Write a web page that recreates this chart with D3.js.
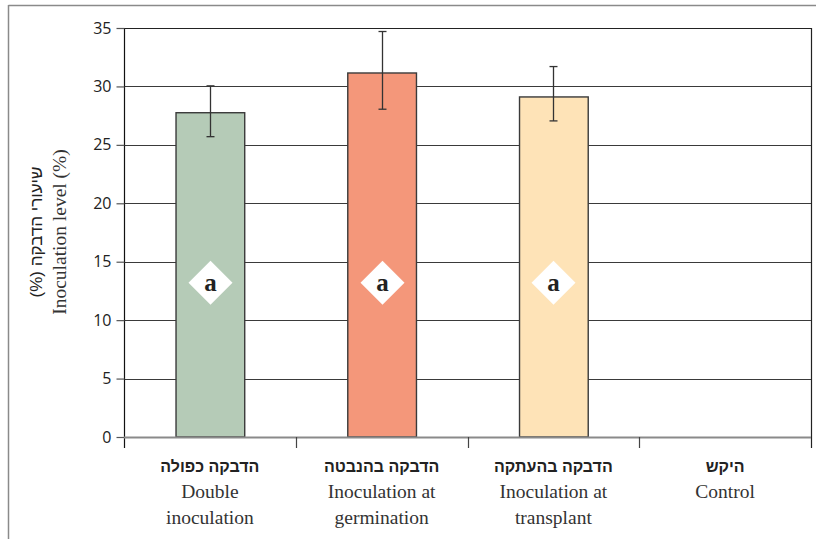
<!DOCTYPE html>
<html>
<head>
<meta charset="utf-8">
<script src="https://cdn.jsdelivr.net/npm/d3@7/dist/d3.min.js"></script>
<style>
  html, body { margin: 0; padding: 0; background: #fff; }
  svg { display: block; }
</style>
</head>
<body>
<div id="chart"></div>
<script>
// Treatments (Hebrew name, English name split in lines)
const categoriesHe = ["הדבקה כפולה", "הדבקה בהנבטה", "הדבקה בהעתקה", "היקש"];
const categoriesEn = [["Double", "inoculation"], ["Inoculation at", "germination"], ["Inoculation at", "transplant"], ["Control"]];
// Mean inoculation level (%) and error bar bounds; control has none
const values = [27.75, 31.15, 29.1, null];
const errLow = [25.7, 28.05, 27.05, null];
const errHigh = [30.05, 34.7, 31.7, null];
const letters = ["a", "a", "a", null];
const yTicks = [0, 5, 10, 15, 20, 25, 30, 35];
const barColors = ["#b5cbb7", "#f4977a", "#fee3b7", "#ffffff"];

const W = 816, H = 539;
const margin = { left: 124, right: 5, top: 28, bottom: 102 };
const x0 = margin.left, x1 = W - margin.right;
const yTop = margin.top, yBot = H - margin.bottom;

const svg = d3.select("#chart").append("svg").attr("width", W).attr("height", H);

// outer frame
svg.append("line").attr("x1", 8.5).attr("x2", W).attr("y1", 5.5).attr("y2", 5.5)
  .attr("stroke", "#8a8a8a").attr("stroke-width", 1.5);
svg.append("line").attr("x1", 8.5).attr("x2", 8.5).attr("y1", 5).attr("y2", H)
  .attr("stroke", "#8a8a8a").attr("stroke-width", 1.5);

const x = d3.scaleBand().domain(d3.range(categoriesHe.length)).range([x0, x1]).paddingInner(0).paddingOuter(0);
const y = d3.scaleLinear().domain([0, 35]).range([yBot, yTop]);

// horizontal gridlines
svg.append("g").selectAll("line").data(yTicks.filter(t => t > 0)).join("line")
  .attr("x1", x0).attr("x2", x1)
  .attr("y1", d => Math.round(y(d)) + 0.5).attr("y2", d => Math.round(y(d)) + 0.5)
  .attr("stroke", d => d === 35 ? "#222" : "#3a3a3a").attr("stroke-width", 1.2);

// right border of the plot, running down past the baseline
svg.append("line").attr("x1", x1 + 0.5).attr("x2", x1 + 0.5)
  .attr("y1", yTop).attr("y2", yBot + 11).attr("stroke", "#222").attr("stroke-width", 1.2);

// y axis
const yAxis = d3.axisLeft(y).tickValues(yTicks).tickSize(8).tickPadding(5).tickSizeOuter(0);
const gy = svg.append("g").attr("transform", `translate(${x0 + 0.5},0)`).call(yAxis);
gy.select(".domain").attr("stroke", "#111").attr("stroke-width", 1.2).attr("d", `M0,${yTop}V${yBot + 11}`);
gy.selectAll(".tick line").attr("stroke", "#555").attr("stroke-width", 1.2);
gy.selectAll(".tick text").attr("font-family", "'Open Sans', sans-serif").attr("font-size", 16)
  .attr("fill", "#222");

// bars
svg.append("g").selectAll("rect").data(values.map((v, i) => ({ v, i })).filter(d => d.v != null)).join("rect")
  .attr("x", d => x(d.i) + x.bandwidth() * 0.3 + 0.5)
  .attr("width", x.bandwidth() * 0.4)
  .attr("y", d => y(d.v))
  .attr("height", d => y(0) - y(d.v))
  .attr("fill", d => barColors[d.i])
  .attr("stroke", "#3a3a3a").attr("stroke-width", 1.4);

// baseline with category ticks
svg.append("line").attr("x1", x0).attr("x2", x1).attr("y1", yBot + 0.5).attr("y2", yBot + 0.5)
  .attr("stroke", "#8a8a8a").attr("stroke-width", 2);
svg.append("g").selectAll("line").data(d3.range(1, categoriesHe.length)).join("line")
  .attr("x1", d => Math.round(x(d)) + 0.5).attr("x2", d => Math.round(x(d)) + 0.5)
  .attr("y1", yBot).attr("y2", yBot + 11).attr("stroke", "#444").attr("stroke-width", 1.2);

// error bars
const eb = svg.append("g").selectAll("g").data(values.map((v, i) => i).filter(i => errLow[i] != null)).join("g")
  .attr("stroke", "#333").attr("stroke-width", 1.3);
const cx = i => Math.round(x(i) + x.bandwidth() / 2) + 0.5;
eb.append("line").attr("x1", cx).attr("x2", cx).attr("y1", i => y(errHigh[i])).attr("y2", i => y(errLow[i]));
eb.append("line").attr("x1", i => cx(i) - 4).attr("x2", i => cx(i) + 4).attr("y1", i => y(errHigh[i])).attr("y2", i => y(errHigh[i]));
eb.append("line").attr("x1", i => cx(i) - 4).attr("x2", i => cx(i) + 4).attr("y1", i => y(errLow[i])).attr("y2", i => y(errLow[i]));

// significance letters in white diamonds
const markY = y(13.2);
const mk = svg.append("g").selectAll("g").data(letters.map((l, i) => ({ l, i })).filter(d => d.l)).join("g")
  .attr("transform", d => `translate(${cx(d.i)},${markY})`);
mk.append("path").attr("d", "M0,-22L22,0L0,22L-22,0Z").attr("fill", "#fff");
mk.append("text").text(d => d.l).attr("text-anchor", "middle").attr("y", 8)
  .attr("font-family", "'Liberation Serif', serif").attr("font-weight", "bold").attr("font-size", 25)
  .attr("fill", "#222");

// category labels
const lab = svg.append("g").selectAll("g").data(d3.range(categoriesHe.length)).join("g")
  .attr("transform", i => `translate(${x(i) + x.bandwidth() / 2},0)`);
lab.append("text").text(i => categoriesHe[i]).attr("y", 472).attr("text-anchor", "middle")
  .attr("direction", "rtl")
  .attr("font-family", "'Liberation Sans', 'DejaVu Sans', sans-serif").attr("font-weight", "bold")
  .attr("font-size", 16).attr("fill", "#222");
lab.each(function (i) {
  d3.select(this).selectAll("text.en").data(categoriesEn[i]).join("text").attr("class", "en")
    .text(d => d).attr("y", (d, k) => 498 + k * 26).attr("text-anchor", "middle")
    .attr("font-family", "'Liberation Serif', serif").attr("font-size", 19.5).attr("fill", "#333");
});

// y axis title (two lines)
const yt = svg.append("g").attr("transform", "translate(0,232)");
yt.append("text").text("שיעורי הדבקה (%)").attr("transform", "translate(42,0) rotate(-90)")
  .attr("text-anchor", "middle").attr("direction", "rtl")
  .attr("font-family", "'Liberation Sans', 'DejaVu Sans', sans-serif")
  .attr("font-size", 17).attr("fill", "#222");
yt.append("text").text("Inoculation level (%)").attr("transform", "translate(66,0) rotate(-90)")
  .attr("text-anchor", "middle")
  .attr("font-family", "'Liberation Serif', serif").attr("font-size", 19.5).attr("fill", "#333");
</script>
</body>
</html>
